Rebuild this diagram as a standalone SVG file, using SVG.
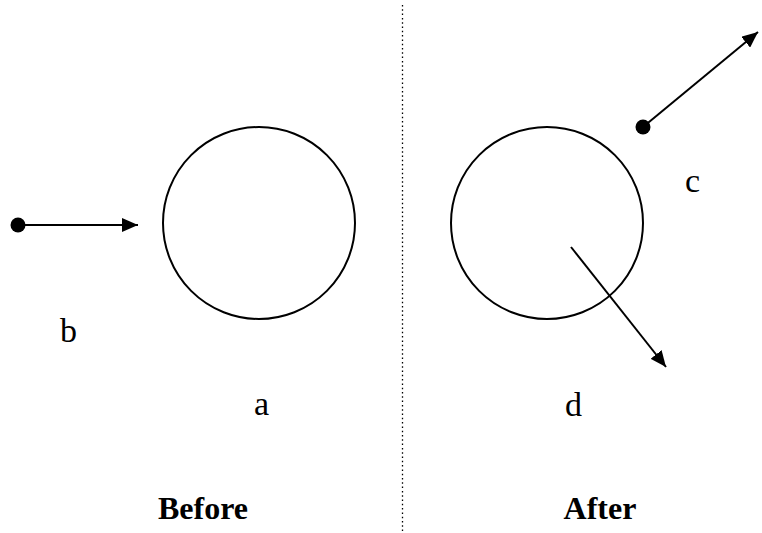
<svg xmlns="http://www.w3.org/2000/svg" width="762" height="533" viewBox="0 0 762 533">
<style>
.ln{stroke:#000;stroke-width:2;fill:none}
.lbl{font-family:"Liberation Serif","Times New Roman",serif;font-size:34px;fill:#000}
.ttl{font-family:"Liberation Serif","Times New Roman",serif;font-size:32px;font-weight:bold;fill:#000}
</style>
<defs>
<marker id="ah" markerUnits="userSpaceOnUse" markerWidth="18" markerHeight="14" refX="16" refY="7" orient="auto">
<path d="M0,0 L16,7 L0,14 Z" fill="#000"/>
</marker>
</defs>
<rect width="762" height="533" fill="#fff"/>
<line x1="402.5" y1="5" x2="402.5" y2="533" stroke="#000" stroke-width="1.3" stroke-dasharray="1.5 2.8"/>
<g id="node-a">
<circle cx="259" cy="223" r="96" class="ln"/>
<text class="lbl" x="254" y="415">a</text>
</g>
<g id="node-d">
<circle cx="547" cy="223" r="96" class="ln"/>
<text class="lbl" x="565" y="416">d</text>
</g>
<g id="node-b">
<circle cx="18" cy="225" r="7.5" fill="#000"/>
<text class="lbl" x="60" y="342">b</text>
</g>
<g id="node-c">
<circle cx="643" cy="127" r="7.5" fill="#000"/>
<text class="lbl" x="685" y="192">c</text>
</g>
<g id="connectors">
<line x1="18" y1="225" x2="138" y2="225" class="ln" marker-end="url(#ah)"/>
<line x1="643" y1="127" x2="758" y2="32" class="ln" marker-end="url(#ah)"/>
<line x1="571" y1="247" x2="666" y2="367" class="ln" marker-end="url(#ah)"/>
</g>
<text class="ttl" x="203" y="519" text-anchor="middle">Before</text>
<text class="ttl" x="600" y="519" text-anchor="middle">After</text>
</svg>
